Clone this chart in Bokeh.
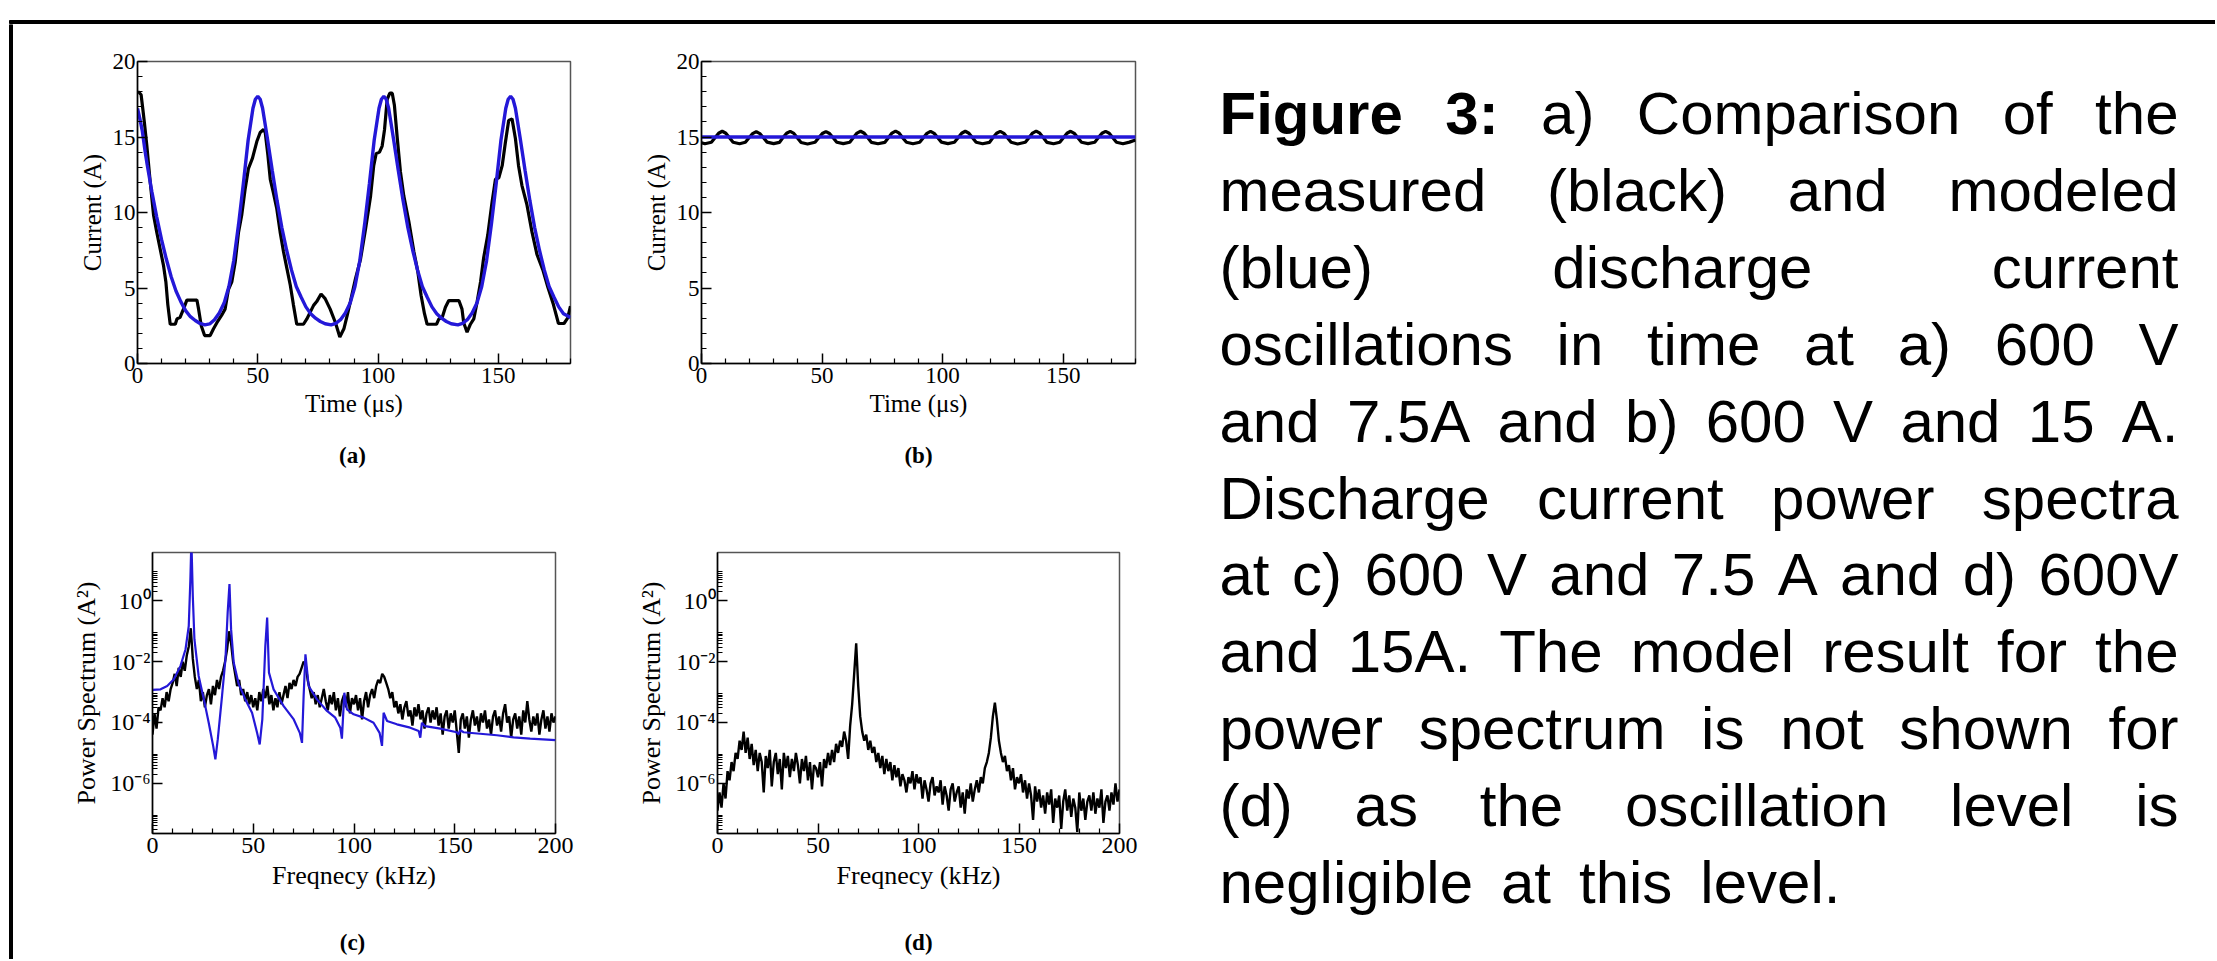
from bokeh.plotting import figure
from bokeh.layouts import row, column
from bokeh.models import Range1d, FixedTicker
from bokeh.embed import file_html
from bokeh.resources import INLINE
from bokeh.core.properties import value

SERIF = "Liberation Serif"
SANS = "Liberation Sans"
BLUE = "#2418d8"

# ---------------- data: panel (a) 600 V, 7.5 A ----------------
t_model_a = [0, 1, 2, 3.2, 4, 6, 8, 10, 12, 14, 16, 18, 20, 22, 24, 26, 28,
             30, 32, 34, 36, 38, 40, 42, 44, 46, 48, 49, 50, 51, 52, 54, 56, 58, 60, 62, 64, 66, 68, 70, 72, 74, 76, 78, 80.5,
             82.4, 84.4, 86.4, 88.4, 90.4, 92.4, 94.4, 96.4, 98.4, 100.4, 101.4, 102.4, 103.4, 104.4, 106.4, 108.4, 110.4, 112.4,
             114.4, 116.4, 118.4, 120.4, 122.4, 124.4, 126.4, 128.4, 130.4, 133.2,
             135.1, 137.1, 139.1, 141.1, 143.1, 145.1, 147.1, 149.1, 151.1, 153.1, 154.1, 155.1, 156.1, 157.1, 159.1, 161.1,
             163.1, 165.1, 167.1, 169.1, 171.1, 173.1, 175.1, 177.1, 180]
i_model_a = [16.9, 16.2, 15.4, 14.0, 13.2, 11.35, 9.7, 8.2, 6.9, 5.75, 4.8, 4.1, 3.5, 3.1, 2.85, 2.65, 2.56,
             2.62, 2.9, 3.35, 4.0, 5.1, 6.8, 9.2, 11.9, 14.8, 16.9, 17.5, 17.7, 17.5, 16.9, 14.9, 12.8, 10.8, 9.0, 7.5, 6.2, 5.1, 4.4, 3.75, 3.3, 3.0, 2.78, 2.63, 2.56,
             2.65, 2.9, 3.35, 4.0, 5.1, 6.8, 9.2, 11.9, 14.8, 16.9, 17.5, 17.7, 17.5, 16.9, 14.9, 12.8, 10.8, 9.0,
             7.5, 6.2, 5.1, 4.4, 3.75, 3.3, 3.0, 2.78, 2.63, 2.56,
             2.65, 2.9, 3.35, 4.0, 5.1, 6.8, 9.2, 11.9, 14.8, 16.9, 17.5, 17.7, 17.5, 16.9, 14.9, 12.8,
             10.8, 9.0, 7.5, 6.2, 5.1, 4.4, 3.75, 3.3, 3.05]

t_meas_a = [0, 0.4, 1.5, 2.1, 2.9, 3.9, 5.3, 6.7, 8.0, 9.4,
            10.8, 11.8, 12.6, 13.6, 15.7, 16.4, 17.7, 19.1, 20.5, 24.7,
            25.4, 26.5, 27.9, 30.2, 31.6, 33.0, 35.0, 36.4, 37.8, 39.2,
            40.6, 42.0, 43.3, 44.7, 46.1, 47.8, 49.6, 51.0, 52.4, 53.1,
            54.2, 55.2, 56.5, 57.9, 59.3, 60.7, 62.1, 63.5, 64.8, 66.2,
            69.0, 70.4, 71.8, 73.2, 74.5, 76.3, 78.0, 80.1, 82.3, 84.1,
            85.8, 87.2, 88.5, 90.6, 92.7, 94.8, 96.9, 98.2, 99.2, 100.6,
            101.7, 102.7, 103.8, 104.9, 105.9, 106.8, 108.0, 109.3, 110.7, 112.8,
            114.9, 116.5, 117.9, 119.3, 120.4, 124.3, 125.3, 126.7, 128.0, 129.4,
            133.6, 134.9, 135.6, 137.0, 138.4, 139.8, 141.2, 142.6, 143.9, 145.6,
            147.4, 148.8, 150.2, 151.6, 152.9, 154.3, 155.7, 157.1, 158.4, 159.8,
            161.9, 164.0, 166.1, 168.5, 170.6, 172.9, 175.0, 177.3, 178.8, 180.0]
i_meas_a = [17.9, 18.0, 17.8, 17.0, 15.9, 14.4, 12.0, 9.8, 8.7, 7.6,
            6.5, 5.4, 3.9, 2.6, 2.6, 2.95, 3.06, 3.6, 4.2, 4.2,
            3.6, 2.5, 1.85, 1.85, 2.3, 2.7, 3.2, 3.6, 4.9, 5.4,
            6.7, 8.7, 9.8, 11.5, 12.9, 13.6, 14.7, 15.3, 15.5, 15.3,
            13.8, 12.2, 11.3, 10.25, 8.7, 7.4, 6.3, 5.2, 3.9, 2.6,
            2.6, 2.95, 3.4, 3.85, 4.1, 4.6, 4.3, 3.6, 2.7, 1.75,
            2.3, 3.2, 4.1, 5.6, 6.9, 8.9, 11.1, 13.1, 13.9, 14.0,
            14.4, 15.5, 17.5, 17.9, 17.9, 17.1, 14.9, 12.7, 11.1, 9.4,
            7.4, 6.1, 4.5, 3.3, 2.6, 2.6, 2.95, 3.06, 3.72, 4.17,
            4.17, 3.6, 2.7, 2.07, 2.6, 2.95, 4.1, 5.4, 7.0, 8.5,
            10.7, 12.2, 12.3, 13.1, 14.6, 16.1, 16.2, 14.9, 13.1, 11.8,
            10.5, 8.7, 7.2, 6.2, 5.05, 3.9, 2.65, 2.65, 3.0, 3.8]

# ---------------- data: panel (b) 600 V, 15 A ----------------
t_model_b = [0, 180]
i_model_b = [15.0, 15.0]
t_meas_b = [0, 1.4, 4.1,
            5.6, 7.1, 8.6, 10.1, 11.6, 13.1, 15.8, 18.2,
            19.7, 21.2, 22.7, 24.2, 25.7, 27.2, 29.9, 32.3,
            33.8, 35.3, 36.8, 38.3, 39.8, 41.3, 44.0, 47.1,
            48.6, 50.1, 51.6, 53.1, 54.6, 56.1, 58.8, 61.5,
            63.0, 64.5, 66.0, 67.5, 69.0, 70.5, 73.2, 76.0,
            77.5, 79.0, 80.5, 82.0, 83.5, 85.0, 87.7, 90.5,
            92.0, 93.5, 95.0, 96.5, 98.0, 99.5, 102.2, 104.9,
            106.4, 107.9, 109.4, 110.9, 112.4, 113.9, 116.6, 119.4,
            120.9, 122.4, 123.9, 125.4, 126.9, 128.4, 131.1, 134.3,
            135.8, 137.3, 138.8, 140.3, 141.8, 143.3, 146.0, 148.6,
            150.1, 151.6, 153.1, 154.6, 156.1, 157.6, 160.3, 163.1,
            164.6, 166.1, 167.6, 169.1, 170.6, 172.1, 174.8, 177.5,
            180.0]
i_meas_b = [14.62, 14.55, 14.65,
            14.95, 15.25, 15.38, 15.25, 14.95, 14.65, 14.55, 14.65,
            14.95, 15.22, 15.35, 15.22, 14.95, 14.66, 14.56, 14.64,
            14.96, 15.25, 15.37, 15.24, 14.94, 14.64, 14.54, 14.65,
            14.95, 15.23, 15.36, 15.23, 14.95, 14.65, 14.56, 14.65,
            14.96, 15.26, 15.38, 15.25, 14.95, 14.64, 14.55, 14.64,
            14.95, 15.26, 15.39, 15.25, 14.94, 14.65, 14.55, 14.65,
            14.95, 15.24, 15.37, 15.24, 14.95, 14.66, 14.56, 14.65,
            14.95, 15.25, 15.38, 15.25, 14.95, 14.65, 14.55, 14.64,
            14.96, 15.25, 15.37, 15.24, 14.95, 14.65, 14.54, 14.65,
            14.95, 15.26, 15.39, 15.25, 14.95, 14.64, 14.55, 14.65,
            14.95, 15.25, 15.38, 15.24, 14.95, 14.65, 14.56, 14.65,
            14.96, 15.25, 15.37, 15.25, 14.95, 14.65, 14.55, 14.66,
            14.8]

# ---------------- data: panel (c) spectrum 600 V, 7.5 A (log10 of A^2) ----------------
f_meas_c = list(range(0, 201))
lg_meas_c = [-4.4, -3.7, -4.2, -3.5, -3.6, -3.2, -3.5, -3.0, -3.3, -2.9,
             -2.7, -2.4, -2.8, -2.2, -2.5, -2.0, -2.3, -1.8, -1.5, -0.9,
             -1.9, -2.5, -2.9, -2.6, -3.3, -3.0, -3.5, -3.1, -2.9, -3.4,
             -2.8, -3.1, -2.6, -2.9, -2.5, -2.3, -2.0, -1.6, -1.0, -1.4,
             -2.0, -2.4, -2.8, -2.6, -3.1, -2.9, -3.3, -3.0, -3.4, -3.1,
             -3.5, -3.2, -3.6, -3.0, -3.3, -2.9, -3.2, -2.8, -3.4, -3.1,
             -3.6, -3.2, -3.5, -3.0, -3.4, -3.1, -2.8, -3.2, -2.7, -2.9,
             -2.6, -2.8, -2.5, -2.4, -2.2, -2.0, -2.1, -2.6, -2.9, -3.2,
             -3.0, -3.4, -3.1, -3.5, -3.2, -2.9, -3.3, -3.6, -3.1, -3.4,
             -3.0, -3.6, -3.2, -3.8, -3.3, -3.1, -3.5, -3.0, -3.7, -3.2,
             -3.4, -3.1, -3.6, -3.2, -3.9, -3.3, -3.0, -3.5, -3.1, -2.9,
             -3.2, -2.8, -2.6, -2.7, -2.4, -2.5, -2.7, -2.9, -3.2, -3.0,
             -3.5, -3.3, -3.7, -3.4, -3.9, -3.5, -3.3, -3.8, -3.6, -4.1,
             -3.5, -3.8, -3.4, -3.9, -3.6, -4.2, -3.7, -3.5, -4.0, -3.6,
             -3.9, -3.5, -4.1, -3.7, -4.4, -3.8, -3.6, -4.2, -3.7, -4.0,
             -3.6, -4.3, -5.0, -3.9, -3.7, -4.2, -3.8, -4.5, -3.9, -3.6,
             -4.1, -3.8, -4.3, -3.7, -4.0, -3.6, -4.2, -3.9, -4.4, -3.8,
             -3.6, -4.1, -3.8, -4.3, -3.7, -3.4, -4.0, -3.8, -4.5, -3.9,
             -3.7, -4.2, -3.8, -4.4, -3.6, -4.0, -3.3, -3.9, -4.3, -3.8,
             -4.1, -3.7, -4.4, -3.9, -3.6, -4.2, -3.8, -4.3, -3.7, -4.0,
             -3.8]
f_model_c = [0, 4, 7.3, 10.6, 13.9, 16.4, 18.0, 18.8, 19.3, 20.0,
             20.8, 22.9, 25.5, 27.9, 30.1, 31.2, 32.4, 34.5, 36.2, 37.3,
             38.2, 39.0, 40.3, 42.8, 46.1, 49.4, 51.9, 53.2, 54.5, 56.0,
             56.9, 57.8, 60.1, 65.1, 70.1, 73.1, 74.2, 75.0, 75.9, 77.5,
             81.6, 86.6, 90.7, 93.2, 94.0, 95.2, 96.5, 99.8, 104.8, 109.7,
             112.7, 113.9, 114.7, 116.4, 121.3, 127.9, 132.1, 132.9, 133.7, 135.3,
             142.8, 151.0, 151.9, 152.7, 154.4, 162.6, 170.9, 179.2, 187.4, 200]
lg_model_c = [-2.93, -2.91, -2.80, -2.58, -2.14, -1.59, -0.82, 0.71, 2.0, 0.16,
              -1.26, -2.47, -3.24, -4.01, -4.77, -5.21, -4.55, -3.13, -1.92, -0.39,
              0.55, -0.93, -2.03, -2.74, -3.24, -3.68, -4.34, -4.72, -3.9, -1.48,
              -0.55, -2.36, -2.91, -3.46, -3.9, -4.34, -4.67, -3.13, -1.76, -2.8,
              -3.24, -3.62, -3.84, -4.17, -4.53, -3.02, -3.57, -3.73, -3.84, -4.01,
              -4.34, -4.77, -3.68, -3.95, -4.06, -4.17, -4.28, -4.5, -4.01, -4.12,
              -4.2, -4.32, -4.39, -4.25, -4.32, -4.37, -4.42, -4.49, -4.53, -4.58]

# ---------------- data: panel (d) spectrum 600 V, 15 A (log10 of A^2) ----------------
f_meas_d = list(range(0, 201))
lg_meas_d = [-6.9, -6.3, -6.8, -6.0, -6.5, -5.6, -5.9, -5.3, -5.6, -5.0,
             -5.2, -4.6, -4.9, -4.3, -5.0, -4.5, -5.2, -4.7, -5.4, -4.9,
             -5.6, -5.0, -5.3, -6.3, -5.1, -5.5, -4.9, -6.1, -5.3, -5.0,
             -5.7, -5.2, -6.2, -5.0, -5.5, -5.1, -5.8, -5.2, -5.6, -5.0,
             -5.4, -6.0, -5.2, -5.6, -5.1, -5.9, -5.3, -6.2, -5.4, -5.5,
             -5.8, -5.3, -6.1, -5.2, -5.5, -5.0, -5.4, -4.9, -5.3, -4.7,
             -5.0, -4.6, -4.8, -4.3, -4.6, -5.2, -4.1, -3.4, -2.4, -1.4,
             -2.8, -3.8, -4.3, -4.6, -4.4, -4.9, -4.6, -5.0, -4.8, -5.3,
             -5.0, -5.5, -5.1, -5.7, -5.2, -5.6, -5.3, -5.9, -5.4, -5.8,
             -5.5, -6.1, -5.7, -5.9, -6.3, -5.8, -6.0, -5.6, -6.2, -5.7,
             -6.0, -5.8, -6.5, -5.9, -6.2, -6.6, -6.0, -5.8, -6.4, -6.1,
             -6.3, -5.9, -6.7, -6.1, -6.4, -6.9, -6.2, -6.0, -6.6, -6.3,
             -6.1, -6.8, -6.3, -7.0, -6.2, -6.5, -6.0, -6.6, -6.2, -5.9,
             -6.3, -5.8, -6.0, -5.5, -5.3, -5.0, -4.5, -3.8, -3.35, -3.9,
             -4.6, -5.0, -5.3, -5.1, -5.6, -5.4, -5.9, -5.5, -6.2, -5.8,
             -6.0, -5.7, -6.3, -5.9, -6.5, -6.0, -6.4, -7.2, -6.1, -6.6,
             -6.2, -6.8, -6.4, -7.0, -6.3, -6.7, -6.2, -7.3, -6.5, -6.8,
             -6.4, -7.5, -6.6, -6.2, -6.9, -6.4, -7.1, -6.5, -6.8, -7.6,
             -6.3, -6.9, -6.5, -7.2, -6.6, -6.4, -6.9, -6.3, -7.0, -6.5,
             -6.8, -6.2, -7.3, -6.6, -6.4, -6.9, -6.3, -6.7, -6.0, -6.6,
             -6.2]

# ---------------- axis ticks / labels ----------------
time_ticks = [0, 50, 100, 150]
time_minor = [10, 20, 30, 40, 60, 70, 80, 90, 110, 120, 130, 140, 160, 170, 180]
cur_ticks = [0, 5, 10, 15, 20]
cur_minor = list(range(1, 20))
freq_ticks = [0, 50, 100, 150, 200]
freq_minor = [10, 20, 30, 40, 60, 70, 80, 90, 110, 120, 130, 140, 160, 170, 180, 190]
pow_ticks = [1e-6, 1e-4, 1e-2, 1.0]
pow_labels = {1e-6: "10\u207b\u2076", 1e-4: "10\u207b\u2074", 1e-2: "10\u207b\u00b2", 1.0: "10\u2070"}
pow_minor = [k * 10.0 ** n for n in (-8, -6, -4, -2, 0) for k in range(2, 10)]
sub_top = ["(a)", "(b)"]
sub_bottom = ["(c)", "(d)"]

CAPTION_LINES = [
    "Figure 3: a) Comparison of the",
    "measured (black) and modeled",
    "(blue) discharge current",
    "oscillations in time at a) 600 V",
    "and 7.5A and b) 600 V and 15 A.",
    "Discharge current power spectra",
    "at c) 600 V and 7.5 A and d) 600V",
    "and 15A. The model result for the",
    "power spectrum is not shown for",
    "(d) as the oscillation level is",
    "negligible at this level.",
]
BOLD_WORDS = {(0, 0), (0, 1)}


def panel(width, height, bl, br, bt, bb, xr, yr, log=False, tick_fs="23px", lab_fs="25px"):
    p = figure(width=width, height=height, x_range=xr, y_range=yr,
               y_axis_type="log" if log else "linear",
               min_border_left=bl, min_border_right=br, min_border_top=bt, min_border_bottom=bb,
               toolbar_location=None, output_backend="svg", title=None)
    p.grid.visible = False
    p.outline_line_color = "#555555"
    p.outline_line_width = 1.5
    p.background_fill_color = "white"
    p.border_fill_color = "white"
    for ax in (p.xaxis[0], p.yaxis[0]):
        ax.axis_line_color = "black"
        ax.axis_line_width = 1.5
        ax.major_tick_in = 10
        ax.major_tick_out = 0
        ax.minor_tick_in = 5
        ax.minor_tick_out = 0
        ax.major_tick_line_color = "black"
        ax.major_tick_line_width = 1.5
        ax.minor_tick_line_color = "black"
        ax.minor_tick_line_width = 1.2
        ax.major_label_text_font = SERIF
        ax.major_label_text_font_size = tick_fs
        ax.major_label_text_color = "black"
        ax.axis_label_text_font = SERIF
        ax.axis_label_text_font_size = lab_fs
        ax.axis_label_text_font_style = "normal"
        ax.axis_label_text_color = "black"
    p.xaxis.major_label_standoff = 4
    p.yaxis.major_label_standoff = 2
    return p


def blank(width, height, x0, x1, y0, y1):
    p = figure(width=width, height=height, x_range=Range1d(x0, x1), y_range=Range1d(y1, y0),
               min_border=0, toolbar_location=None, output_backend="svg", title=None,
               x_axis_location=None, y_axis_location=None)
    p.grid.visible = False
    p.outline_line_color = None
    p.background_fill_color = "white"
    p.border_fill_color = "white"
    return p


# page layout (page pixel coordinates, origin top-left):
# top strip y 0..24 | left strip x 0..14 | plots x 14..1170 | caption x 1170..2215
# row 1 y 24..430, sub-labels y 430..490, row 2 y 490..915, sub-labels y 915..959

# (a)
pa = panel(606, 406, 123, 50, 37, 67, Range1d(0, 180), Range1d(0, 20))
pa.xaxis.ticker = FixedTicker(ticks=time_ticks, minor_ticks=time_minor)
pa.yaxis.ticker = FixedTicker(ticks=cur_ticks, minor_ticks=cur_minor)
pa.xaxis.axis_label = "Time (\u03bcs)"
pa.yaxis.axis_label = "Current (A)"
pa.xaxis.axis_label_standoff = 4
pa.yaxis.axis_label_standoff = 4
pa.line(t_meas_a, i_meas_a, line_color="black", line_width=3.2)
pa.line(t_model_a, i_model_a, line_color=BLUE, line_width=3.4)

# (b)
pb = panel(550, 406, 81, 35, 37, 67, Range1d(0, 180), Range1d(0, 20))
pb.xaxis.ticker = FixedTicker(ticks=time_ticks, minor_ticks=time_minor)
pb.yaxis.ticker = FixedTicker(ticks=cur_ticks, minor_ticks=cur_minor)
pb.xaxis.axis_label = "Time (\u03bcs)"
pb.yaxis.axis_label = "Current (A)"
pb.xaxis.axis_label_standoff = 4
pb.yaxis.axis_label_standoff = 4
pb.line(t_meas_b, i_meas_b, line_color="black", line_width=3.2)
pb.line(t_model_b, i_model_b, line_color=BLUE, line_width=3.6)

# (c)
ylo, yhi = 10 ** -7.65, 10 ** 1.59
pc = panel(606, 425, 138, 65, 62, 82, Range1d(0, 200), Range1d(ylo, yhi), log=True,
           tick_fs="24px", lab_fs="26px")
pc.xaxis.ticker = FixedTicker(ticks=freq_ticks, minor_ticks=freq_minor)
pc.yaxis.ticker = FixedTicker(ticks=pow_ticks, minor_ticks=pow_minor)
pc.yaxis.major_label_overrides = pow_labels
pc.xaxis.axis_label = "Freqnecy (kHz)"
pc.yaxis.axis_label = "Power Spectrum (A\u00b2)"
pc.xaxis.axis_label_standoff = 5
pc.yaxis.axis_label_standoff = 6
pc.line(f_meas_c, [10 ** v for v in lg_meas_c], line_color="black", line_width=2.4)
pc.line(f_model_c, [10 ** v for v in lg_model_c], line_color=BLUE, line_width=2.2)

# (d)
pd_ = panel(550, 425, 97, 51, 62, 82, Range1d(0, 200), Range1d(ylo, yhi), log=True,
            tick_fs="24px", lab_fs="26px")
pd_.xaxis.ticker = FixedTicker(ticks=freq_ticks, minor_ticks=freq_minor)
pd_.yaxis.ticker = FixedTicker(ticks=pow_ticks, minor_ticks=pow_minor)
pd_.yaxis.major_label_overrides = pow_labels
pd_.xaxis.axis_label = "Freqnecy (kHz)"
pd_.yaxis.axis_label = "Power Spectrum (A\u00b2)"
pd_.xaxis.axis_label_standoff = 5
pd_.yaxis.axis_label_standoff = 6
pd_.line(f_meas_d, [10 ** v for v in lg_meas_d], line_color="black", line_width=2.4)

# sub-figure labels, centred under each plot frame
lab_top = blank(1156, 60, 14, 1170, 430, 490)
lab_top.text(x=[352, 918], y=[455, 455], text=sub_top, text_font=value(SERIF), text_font_size="23px",
             text_font_style="bold", text_align="center", text_baseline="middle", text_color="black")
lab_bot = blank(1156, 44, 14, 1170, 915, 959)
lab_bot.text(x=[352, 918], y=[942, 942], text=sub_bottom, text_font=value(SERIF), text_font_size="23px",
             text_font_style="bold", text_align="center", text_baseline="middle", text_color="black")

# frame lines of the slide box
top_strip = blank(2215, 24, 0, 2215, 0, 24)
top_strip.quad(left=[9], right=[2215], top=[20], bottom=[23], color="black")
left_strip = blank(14, 935, 0, 14, 24, 959)
left_strip.quad(left=[9], right=[12], top=[24], bottom=[959], color="black")

# caption, justified with Arial / Liberation Sans advance widths
REG_W = {' ': 278, '(': 333, ')': 333, '.': 278, ':': 278, ',': 278,
         'a': 556, 'b': 556, 'c': 500, 'd': 556, 'e': 556, 'f': 278, 'g': 556, 'h': 556, 'i': 222,
         'j': 222, 'k': 500, 'l': 222, 'm': 833, 'n': 556, 'o': 556, 'p': 556, 'q': 556, 'r': 333,
         's': 500, 't': 278, 'u': 556, 'v': 500, 'w': 722, 'x': 500, 'y': 500, 'z': 500,
         'A': 667, 'C': 722, 'D': 722, 'F': 611, 'T': 611, 'V': 667}
BOLD_W = {'F': 611, 'i': 278, 'g': 611, 'u': 611, 'r': 389, 'e': 556, ':': 333, ' ': 278}
FS = 60
LEFT, RIGHT = 1219, 2178
BASE0, LEAD = 113, 76.9
LAST_GAP = 28


def tw(s, bold):
    tbl = BOLD_W if bold else REG_W
    return sum(tbl.get(ch, 556) for ch in s) * FS / 1000.0


cap = blank(1045, 935, 1170, 2215, 24, 959)
rx, ry, rt, bx, by, bt = [], [], [], [], [], []
for i, line in enumerate(CAPTION_LINES):
    words = line.split(" ")
    bolds = [(i, j) in BOLD_WORDS for j in range(len(words))]
    widths = [tw(w, b) for w, b in zip(words, bolds)]
    if i < len(CAPTION_LINES) - 1 and len(words) > 1:
        gap = (RIGHT - LEFT - sum(widths)) / (len(words) - 1)
    else:
        gap = LAST_GAP
    x = LEFT
    y = BASE0 + i * LEAD
    for w, b, wd in zip(words, bolds, widths):
        if b:
            bx.append(x); by.append(y); bt.append(w)
        else:
            rx.append(x); ry.append(y); rt.append(w)
        x += wd + gap

cap.text(x=rx, y=ry, text=rt, text_font=value(SANS), text_font_size="%dpx" % FS,
         text_baseline="alphabetic", text_align="left", text_color="black")
cap.text(x=bx, y=by, text=bt, text_font=value(SANS), text_font_size="%dpx" % FS, text_font_style="bold",
         text_baseline="alphabetic", text_align="left", text_color="black")

plots = column(row(pa, pb), lab_top, row(pc, pd_), lab_bot)
layout = column(top_strip, row(left_strip, plots, cap))

open("out.html", "w").write(file_html(layout, INLINE))
